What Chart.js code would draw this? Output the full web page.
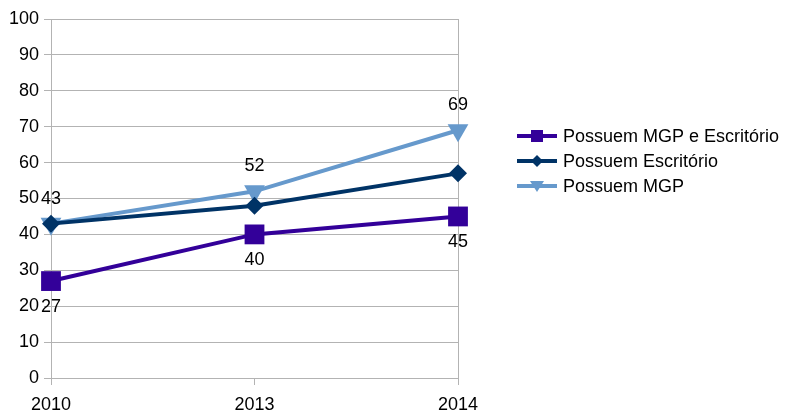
<!DOCTYPE html>
<html>
<head>
<meta charset="utf-8">
<script src="https://cdn.jsdelivr.net/npm/chart.js@4/dist/chart.umd.min.js"></script>
<style>
  html, body { margin: 0; padding: 0; background: #fff; }
  #wrap { width: 785px; height: 411px; position: relative; }
</style>
</head>
<body>
<div id="wrap"><canvas id="chart"></canvas></div>
<script>
const years = ['2010', '2013', '2014'];
const mgpEscritorio = [27, 40, 45];
const escritorio = [43, 48, 57];
const mgp = [43, 52, 69];
const seriesNames = ['Possuem MGP e Escritório', 'Possuem Escritório', 'Possuem MGP'];

const FONT = "'Liberation Sans', Arial, sans-serif";
const FONT_SIZE = 18;
const GRID = '#b3b3b3';

// value labels: per dataset, where to put them (above / below / none)
const labelPlacement = ['below', null, 'above'];

const valueLabels = {
  id: 'valueLabels',
  afterDatasetsDraw(chart) {
    const ctx = chart.ctx;
    ctx.save();
    ctx.font = FONT_SIZE + 'px ' + FONT;
    ctx.fillStyle = '#000';
    ctx.textAlign = 'center';
    ctx.textBaseline = 'middle';
    chart.data.datasets.forEach((ds, i) => {
      const place = labelPlacement[i];
      if (!place) return;
      const meta = chart.getDatasetMeta(i);
      meta.data.forEach((pt, j) => {
        const dy = place === 'above' ? -25 : 26;
        ctx.fillText(String(ds.data[j]), pt.x, pt.y + dy);
      });
    });
    ctx.restore();
  }
};

// legend on the right: line sample with the series marker in its middle
const sideLegend = {
  id: 'sideLegend',
  afterDraw(chart) {
    const ctx = chart.ctx;
    const x0 = 517, x1 = 557, textX = 563;
    const rows = [136, 161, 186];
    ctx.save();
    chart.data.datasets.forEach((ds, i) => {
      const y = rows[i];
      ctx.strokeStyle = ds.borderColor;
      ctx.lineWidth = 4;
      ctx.beginPath();
      ctx.moveTo(x0, y);
      ctx.lineTo(x1, y);
      ctx.stroke();
      ctx.fillStyle = ds.borderColor;
      const cx = (x0 + x1) / 2;
      ctx.beginPath();
      if (i === 0) {
        ctx.rect(cx - 6, y - 6, 12, 12);
      } else if (i === 1) {
        ctx.moveTo(cx, y - 6); ctx.lineTo(cx + 6, y); ctx.lineTo(cx, y + 6); ctx.lineTo(cx - 6, y);
        ctx.closePath();
      } else {
        ctx.moveTo(cx - 7, y - 5); ctx.lineTo(cx + 7, y - 5); ctx.lineTo(cx, y + 6);
        ctx.closePath();
      }
      ctx.fill();
      ctx.fillStyle = '#000';
      ctx.font = FONT_SIZE + 'px ' + FONT;
      ctx.textAlign = 'left';
      ctx.textBaseline = 'middle';
      ctx.fillText(ds.label, textX, y + 1);
    });
    ctx.restore();
  }
};

new Chart(document.getElementById('chart'), {
  type: 'line',
  data: {
    labels: years,
    datasets: [
      {
        label: seriesNames[0],
        data: mgpEscritorio,
        borderColor: '#330099',
        backgroundColor: '#330099',
        borderWidth: 4,
        pointStyle: 'rect',
        pointRadius: 14,
        pointHoverRadius: 14,
        pointBorderWidth: 0
      },
      {
        label: seriesNames[1],
        data: escritorio,
        borderColor: '#003366',
        backgroundColor: '#003366',
        borderWidth: 4,
        pointStyle: 'rectRot',
        pointRadius: 9,
        pointHoverRadius: 9,
        pointBorderWidth: 0
      },
      {
        label: seriesNames[2],
        data: mgp,
        borderColor: '#6699cc',
        backgroundColor: '#6699cc',
        borderWidth: 4,
        pointStyle: 'triangle',
        pointRotation: 180,
        pointRadius: 12,
        pointHoverRadius: 12,
        pointBorderWidth: 0
      }
    ]
  },
  options: {
    responsive: true,
    maintainAspectRatio: false,
    animation: false,
    events: [],
    layout: { padding: { top: 19, right: 327, bottom: 0, left: 0 } },
    plugins: {
      legend: { display: false },
      tooltip: { enabled: false }
    },
    scales: {
      x: {
        type: 'category',
        offset: false,
        grid: {
          drawOnChartArea: true,
          color: (c) => (c.index === years.length - 1 ? GRID : 'rgba(0,0,0,0)'),
          tickColor: GRID,
          tickLength: 7,
          lineWidth: 1
        },
        border: { color: GRID },
        ticks: {
          color: '#000',
          font: { family: FONT, size: FONT_SIZE },
          padding: 9,
          maxRotation: 0
        },
        afterFit(scale) { scale.height = 33; }
      },
      y: {
        min: 0,
        max: 100,
        grid: { color: GRID, tickLength: 7, lineWidth: 1 },
        border: { color: GRID },
        ticks: {
          stepSize: 10,
          color: '#000',
          font: { family: FONT, size: FONT_SIZE },
          padding: 5
        },
        afterFit(scale) { scale.width = 51; }
      }
    }
  },
  plugins: [valueLabels, sideLegend]
});
</script>
</body>
</html>
